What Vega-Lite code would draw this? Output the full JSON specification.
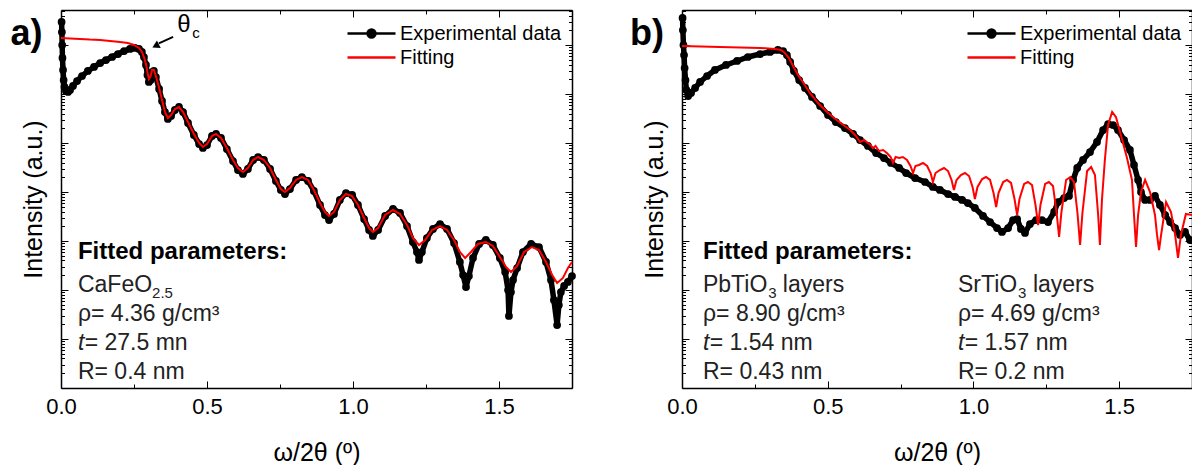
{
  "$schema": "https://vega.github.io/schema/vega-lite/v6.json",
  "background": "white",
  "padding": {"left": 10, "top": 9, "right": 0, "bottom": 0},
  "bounds": "flush",
  "spacing": 110,
  "resolve": {"scale": {"color": "independent"}},
  "config": {
    "view": {"stroke": null},
    "axis": {"grid": false, "domainColor": "black", "domainWidth": 1.5, "tickColor": "black", "tickWidth": 1, "labelFont": "Liberation Sans", "labelFontSize": 22, "labelColor": "black", "titleFont": "Liberation Sans", "titleFontSize": 25, "titleFontWeight": "normal", "titleColor": "black"},
    "text": {"font": "Liberation Sans", "align": "left", "baseline": "alphabetic", "color": "#222222", "fontSize": 23}
  },
  "datasets": {
    "a_exp": [
      {"x":0.002,"I":2.95e7},{"x":0.003,"I":1.84e7},{"x":0.004,"I":1.0e7},{"x":0.005,"I":5.43e6},{"x":0.007,"I":3.09e6},{"x":0.009,"I":1.93e6},{"x":0.012,"I":1.39e6},{"x":0.017,"I":1.15e6},{"x":0.024,"I":1.10e6},{"x":0.031,"I":1.21e6},{"x":0.041,"I":1.46e6},{"x":0.055,"I":1.84e6},{"x":0.072,"I":2.33e6},{"x":0.092,"I":2.95e6},{"x":0.113,"I":3.56e6},{"x":0.134,"I":4.29e6},{"x":0.154,"I":4.94e6},{"x":0.175,"I":5.69e6},{"x":0.195,"I":6.55e6},{"x":0.216,"I":7.54e6},{"x":0.236,"I":8.29e6},{"x":0.253,"I":8.69e6},{"x":0.267,"I":8.29e6},{"x":0.277,"I":7.20e6},{"x":0.284,"I":5.69e6},{"x":0.291,"I":3.91e6},{"x":0.296,"I":2.44e6},{"x":0.301,"I":1.76e6},{"x":0.307,"I":1.93e6},{"x":0.312,"I":2.81e6},{"x":0.318,"I":2.95e6},{"x":0.325,"I":2.22e6},{"x":0.336,"I":1.27e6},{"x":0.346,"I":7.20e5},{"x":0.356,"I":4.29e5},{"x":0.366,"I":3.09e5},{"x":0.377,"I":3.56e5},{"x":0.390,"I":4.72e5},{"x":0.404,"I":5.43e5},{"x":0.418,"I":4.29e5},{"x":0.435,"I":2.56e5},{"x":0.455,"I":1.46e5},{"x":0.473,"I":9.54e4},{"x":0.486,"I":7.91e4},{"x":0.500,"I":9.10e4},{"x":0.517,"I":1.39e5},{"x":0.531,"I":1.53e5},{"x":0.548,"I":1.27e5},{"x":0.568,"I":7.54e4},{"x":0.589,"I":4.29e4},{"x":0.606,"I":2.81e4},{"x":0.623,"I":2.33e4},{"x":0.640,"I":2.95e4},{"x":0.658,"I":4.50e4},{"x":0.675,"I":5.18e4},{"x":0.695,"I":4.50e4},{"x":0.716,"I":2.95e4},{"x":0.736,"I":1.68e4},{"x":0.753,"I":1.10e4},{"x":0.767,"I":9.10e3},{"x":0.784,"I":1.15e4},{"x":0.805,"I":1.76e4},{"x":0.825,"I":2.02e4},{"x":0.846,"I":1.68e4},{"x":0.866,"I":1.05e4},{"x":0.887,"I":5.43e3},{"x":0.904,"I":3.39e3},{"x":0.918,"I":2.68e3},{"x":0.935,"I":3.56e3},{"x":0.955,"I":6.87e3},{"x":0.976,"I":9.54e3},{"x":0.997,"I":8.69e3},{"x":1.017,"I":5.43e3},{"x":1.038,"I":2.81e3},{"x":1.055,"I":1.68e3},{"x":1.068,"I":1.27e3},{"x":1.086,"I":1.68e3},{"x":1.110,"I":3.24e3},{"x":1.137,"I":4.50e3},{"x":1.161,"I":3.73e3},{"x":1.185,"I":2.02e3},{"x":1.205,"I":954},{"x":1.219,"I":596},{"x":1.226,"I":410},{"x":1.236,"I":596},{"x":1.253,"I":1.15e3},{"x":1.274,"I":1.76e3},{"x":1.298,"I":2.22e3},{"x":1.322,"I":1.76e3},{"x":1.346,"I":910},{"x":1.366,"I":373},{"x":1.377,"I":202},{"x":1.387,"I":115},{"x":1.397,"I":193},{"x":1.411,"I":450},{"x":1.432,"I":869},{"x":1.455,"I":1.05e3},{"x":1.479,"I":829},{"x":1.503,"I":450},{"x":1.521,"I":233},{"x":1.531,"I":100},{"x":1.534,"I":29.5},{"x":1.541,"I":91},{"x":1.548,"I":160},{"x":1.562,"I":281},{"x":1.582,"I":596},{"x":1.610,"I":869},{"x":1.637,"I":754},{"x":1.661,"I":373},{"x":1.678,"I":160},{"x":1.688,"I":62.5},{"x":1.699,"I":19.3},{"x":1.705,"I":49.4},{"x":1.712,"I":91},{"x":1.723,"I":121},{"x":1.736,"I":146},{"x":1.750,"I":193}
    ],
    "a_fit": [
      {"x":0,"I":1.39e7},{"x":0.031,"I":1.36e7},{"x":0.065,"I":1.33e7},{"x":0.099,"I":1.29e7},{"x":0.134,"I":1.27e7},{"x":0.168,"I":1.21e7},{"x":0.202,"I":1.15e7},{"x":0.229,"I":1.10e7},{"x":0.250,"I":1.0e7},{"x":0.267,"I":8.69e6},{"x":0.277,"I":7.20e6},{"x":0.284,"I":5.69e6},{"x":0.291,"I":4.10e6},{"x":0.296,"I":2.81e6},{"x":0.301,"I":2.02e6},{"x":0.307,"I":2.33e6},{"x":0.312,"I":3.09e6},{"x":0.318,"I":3.09e6},{"x":0.325,"I":2.33e6},{"x":0.336,"I":1.33e6},{"x":0.346,"I":7.54e5},{"x":0.356,"I":4.29e5},{"x":0.366,"I":3.24e5},{"x":0.377,"I":3.73e5},{"x":0.390,"I":4.94e5},{"x":0.404,"I":5.43e5},{"x":0.418,"I":4.29e5},{"x":0.435,"I":2.68e5},{"x":0.455,"I":1.53e5},{"x":0.473,"I":1.0e5},{"x":0.486,"I":8.29e4},{"x":0.500,"I":9.54e4},{"x":0.517,"I":1.39e5},{"x":0.531,"I":1.53e5},{"x":0.548,"I":1.27e5},{"x":0.568,"I":7.91e4},{"x":0.589,"I":4.50e4},{"x":0.606,"I":3.09e4},{"x":0.623,"I":2.56e4},{"x":0.640,"I":3.09e4},{"x":0.658,"I":4.50e4},{"x":0.675,"I":5.18e4},{"x":0.695,"I":4.50e4},{"x":0.716,"I":3.09e4},{"x":0.736,"I":1.76e4},{"x":0.753,"I":1.15e4},{"x":0.767,"I":1.0e4},{"x":0.784,"I":1.21e4},{"x":0.805,"I":1.76e4},{"x":0.825,"I":2.02e4},{"x":0.846,"I":1.76e4},{"x":0.866,"I":1.10e4},{"x":0.887,"I":5.96e3},{"x":0.904,"I":3.91e3},{"x":0.918,"I":3.24e3},{"x":0.935,"I":3.91e3},{"x":0.955,"I":6.87e3},{"x":0.976,"I":9.10e3},{"x":0.997,"I":8.29e3},{"x":1.017,"I":5.43e3},{"x":1.038,"I":2.95e3},{"x":1.055,"I":1.84e3},{"x":1.068,"I":1.53e3},{"x":1.086,"I":1.84e3},{"x":1.110,"I":3.39e3},{"x":1.137,"I":4.29e3},{"x":1.161,"I":3.56e3},{"x":1.185,"I":2.12e3},{"x":1.205,"I":1.15e3},{"x":1.226,"I":829},{"x":1.247,"I":1.05e3},{"x":1.271,"I":1.68e3},{"x":1.298,"I":2.02e3},{"x":1.322,"I":1.68e3},{"x":1.346,"I":1.05e3},{"x":1.366,"I":596},{"x":1.384,"I":450},{"x":1.404,"I":596},{"x":1.428,"I":869},{"x":1.455,"I":954},{"x":1.479,"I":791},{"x":1.503,"I":472},{"x":1.524,"I":295},{"x":1.541,"I":233},{"x":1.562,"I":309},{"x":1.586,"I":596},{"x":1.613,"I":754},{"x":1.637,"I":655},{"x":1.661,"I":373},{"x":1.682,"I":202},{"x":1.699,"I":139},{"x":1.719,"I":176},{"x":1.736,"I":281},{"x":1.750,"I":373}
    ],
    "b_exp": [
      {"x":0.002,"I":3.56e7},{"x":0.003,"I":2.02e7},{"x":0.005,"I":1.0e7},{"x":0.007,"I":6.25e6},{"x":0.009,"I":3.39e6},{"x":0.012,"I":1.93e6},{"x":0.015,"I":1.21e6},{"x":0.021,"I":9.10e5},{"x":0.031,"I":1.05e6},{"x":0.045,"I":1.33e6},{"x":0.062,"I":1.76e6},{"x":0.086,"I":2.33e6},{"x":0.113,"I":3.09e6},{"x":0.151,"I":3.91e6},{"x":0.189,"I":4.72e6},{"x":0.226,"I":5.69e6},{"x":0.268,"I":6.55e6},{"x":0.302,"I":7.20e6},{"x":0.329,"I":7.91e6},{"x":0.347,"I":7.54e6},{"x":0.360,"I":6.25e6},{"x":0.371,"I":4.50e6},{"x":0.384,"I":2.95e6},{"x":0.402,"I":1.93e6},{"x":0.422,"I":1.33e6},{"x":0.446,"I":8.69e5},{"x":0.474,"I":5.69e5},{"x":0.501,"I":3.73e5},{"x":0.528,"I":2.68e5},{"x":0.559,"I":2.02e5},{"x":0.587,"I":1.53e5},{"x":0.611,"I":1.15e5},{"x":0.638,"I":8.69e4},{"x":0.666,"I":6.25e4},{"x":0.693,"I":4.94e4},{"x":0.717,"I":3.91e4},{"x":0.745,"I":3.09e4},{"x":0.769,"I":2.44e4},{"x":0.800,"I":1.93e4},{"x":0.834,"I":1.60e4},{"x":0.861,"I":1.27e4},{"x":0.885,"I":1.10e4},{"x":0.913,"I":9.10e3},{"x":0.937,"I":7.91e3},{"x":0.961,"I":6.87e3},{"x":0.981,"I":5.96e3},{"x":1.005,"I":4.72e3},{"x":1.033,"I":3.24e3},{"x":1.057,"I":2.44e3},{"x":1.081,"I":1.84e3},{"x":1.098,"I":1.53e3},{"x":1.119,"I":1.84e3},{"x":1.136,"I":2.68e3},{"x":1.150,"I":2.81e3},{"x":1.163,"I":1.76e3},{"x":1.177,"I":1.46e3},{"x":1.194,"I":2.22e3},{"x":1.215,"I":2.68e3},{"x":1.235,"I":2.68e3},{"x":1.256,"I":2.44e3},{"x":1.277,"I":3.91e3},{"x":1.290,"I":6.25e3},{"x":1.311,"I":7.54e3},{"x":1.328,"I":8.29e3},{"x":1.342,"I":1.76e4},{"x":1.356,"I":3.09e4},{"x":1.376,"I":4.50e4},{"x":1.400,"I":6.55e4},{"x":1.424,"I":1.05e5},{"x":1.445,"I":1.84e5},{"x":1.462,"I":2.44e5},{"x":1.479,"I":2.33e5},{"x":1.496,"I":1.84e5},{"x":1.517,"I":1.15e5},{"x":1.537,"I":7.20e4},{"x":1.551,"I":3.56e4},{"x":1.565,"I":1.76e4},{"x":1.575,"I":1.0e4},{"x":1.589,"I":6.87e3},{"x":1.606,"I":6.87e3},{"x":1.623,"I":8.29e3},{"x":1.640,"I":5.43e3},{"x":1.658,"I":3.39e3},{"x":1.675,"I":2.44e3},{"x":1.692,"I":1.84e3},{"x":1.709,"I":1.33e3},{"x":1.726,"I":1.53e3},{"x":1.743,"I":1.05e3}
    ],
    "b_fit": [
      {"x":0,"I":9.54e6},{"x":0.130,"I":9.10e6},{"x":0.268,"I":8.69e6},{"x":0.319,"I":8.29e6},{"x":0.340,"I":7.91e6},{"x":0.353,"I":6.87e6},{"x":0.367,"I":5.43e6},{"x":0.381,"I":3.73e6},{"x":0.398,"I":2.44e6},{"x":0.419,"I":1.60e6},{"x":0.439,"I":1.05e6},{"x":0.467,"I":6.55e5},{"x":0.494,"I":4.50e5},{"x":0.522,"I":3.24e5},{"x":0.549,"I":2.44e5},{"x":0.577,"I":1.84e5},{"x":0.597,"I":1.39e5},
      {"x":0.611,"I":1.05e5},{"x":0.625,"I":1.15e5},{"x":0.638,"I":1.0e5},{"x":0.647,"I":9.10e4},{"x":0.655,"I":7.91e4},{"x":0.664,"I":8.69e4},
      {"x":0.676,"I":6.87e4},{"x":0.690,"I":7.20e4},{"x":0.703,"I":6.25e4},{"x":0.716,"I":5.18e4},{"x":0.724,"I":3.91e4},{"x":0.733,"I":5.18e4},
      {"x":0.745,"I":4.94e4},{"x":0.758,"I":5.18e4},{"x":0.772,"I":4.50e4},{"x":0.784,"I":3.39e4},{"x":0.793,"I":2.44e4},{"x":0.801,"I":3.39e4},
      {"x":0.813,"I":3.56e4},{"x":0.827,"I":3.91e4},{"x":0.841,"I":3.39e4},{"x":0.853,"I":2.44e4},{"x":0.861,"I":1.60e4},{"x":0.870,"I":2.44e4},
      {"x":0.885,"I":2.81e4},{"x":0.899,"I":3.09e4},{"x":0.913,"I":2.68e4},{"x":0.925,"I":1.76e4},{"x":0.933,"I":1.10e4},{"x":0.942,"I":1.76e4},
      {"x":0.957,"I":2.22e4},{"x":0.971,"I":2.44e4},{"x":0.985,"I":2.12e4},{"x":0.997,"I":1.27e4},{"x":1.005,"I":7.20e3},{"x":1.014,"I":1.27e4},
      {"x":1.030,"I":1.84e4},{"x":1.043,"I":2.02e4},{"x":1.057,"I":1.76e4},{"x":1.069,"I":9.54e3},{"x":1.078,"I":4.94e3},{"x":1.086,"I":9.54e3},
      {"x":1.102,"I":1.60e4},{"x":1.115,"I":1.76e4},{"x":1.129,"I":1.53e4},{"x":1.141,"I":7.20e3},{"x":1.150,"I":3.39e3},{"x":1.158,"I":7.20e3},
      {"x":1.174,"I":1.46e4},{"x":1.187,"I":1.60e4},{"x":1.201,"I":1.39e4},{"x":1.213,"I":5.43e3},{"x":1.222,"I":2.12e3},{"x":1.230,"I":5.43e3},
      {"x":1.246,"I":1.46e4},{"x":1.259,"I":1.60e4},{"x":1.273,"I":1.33e4},{"x":1.285,"I":3.91e3},{"x":1.294,"I":1.21e3},{"x":1.302,"I":3.91e3},
      {"x":1.318,"I":1.76e4},{"x":1.332,"I":2.02e4},{"x":1.345,"I":1.60e4},{"x":1.357,"I":3.73e3},{"x":1.366,"I":829},{"x":1.374,"I":3.73e3},
      {"x":1.390,"I":2.68e4},{"x":1.404,"I":3.24e4},{"x":1.417,"I":2.22e4},{"x":1.428,"I":3.39e3},{"x":1.434,"I":829},{"x":1.441,"I":6.87e3},
      {"x":1.451,"I":4.50e4},{"x":1.462,"I":2.33e5},{"x":1.476,"I":4.29e5},{"x":1.489,"I":3.39e5},{"x":1.506,"I":1.46e5},{"x":1.527,"I":4.94e4},{"x":1.544,"I":1.76e4},{"x":1.551,"I":3.39e3},{"x":1.558,"I":754},{"x":1.565,"I":3.39e3},{"x":1.575,"I":1.0e4},{"x":1.589,"I":1.76e4},{"x":1.606,"I":1.0e4},{"x":1.623,"I":3.39e3},{"x":1.630,"I":1.33e3},{"x":1.637,"I":655},{"x":1.644,"I":1.33e3},{"x":1.661,"I":6.25e3},{"x":1.678,"I":3.91e3},{"x":1.692,"I":1.33e3},{"x":1.702,"I":450},{"x":1.712,"I":1.33e3},{"x":1.729,"I":3.56e3},{"x":1.750,"I":3.39e3}
    ]
  },
  "hconcat": [
    {
      "width": 511,
      "height": 378,
      "resolve": {"axis": {"x": "independent", "y": "independent"}},
      "layer": [
        {
          "data": {"name": "a_exp"},
          "mark": {"type": "line", "strokeWidth": 5.5, "strokeJoin": "round", "strokeCap": "round"},
          "encoding": {
            "x": {"field": "x", "type": "quantitative", "scale": {"domain": [0, 1.75], "nice": false, "zero": false},
                  "axis": {"orient": "top", "values": [0,0.25,0.5,0.75,1,1.25,1.5,1.75], "labels": false, "title": null, "tickSize": {"condition": {"test": "datum.value % 0.5 === 0", "value": -7}, "value": -4}}},
            "y": {"field": "I", "type": "quantitative", "scale": {"type": "log", "domain": [1, 5.18e7], "nice": false},
                  "axis": {"orient": "right", "values": [1,2,3,4,5,6,7,8,9,10,20,30,40,50,60,70,80,90,100,200,300,400,500,600,700,800,900,1000,2000,3000,4000,5000,6000,7000,8000,9000,10000,20000,30000,40000,50000,60000,70000,80000,90000,100000,200000,300000,400000,500000,600000,700000,800000,900000,1000000,2000000,3000000,4000000,5000000,6000000,7000000,8000000,9000000,10000000,20000000,30000000,40000000,50000000], "labels": false, "title": null, "tickSize": {"condition": {"test": "abs(log(datum.value)/LN10 - round(log(datum.value)/LN10)) < 0.001", "value": -7}, "value": -3.5}}},
            "color": {"datum": "Experimental data", "type": "nominal",
                      "scale": {"domain": ["Experimental data", "Fitting"], "range": ["black", "red"]},
                      "legend": {"orient": "top-right", "offset": 10, "title": null, "padding": 0, "labelFont": "Liberation Sans", "labelFontSize": 20, "labelColor": "black", "labelLimit": 400, "symbolSize": 576, "labelOffset": 27, "rowPadding": 0,
                                 "encode": {"symbols": {"update": {
                                   "shape": {"signal": "datum.value === 'Fitting' ? 'M-1,0L3,0' : 'M-1,0L3,0M0.67,0A0.33,0.33,0,1,1,1.33,0A0.33,0.33,0,1,1,0.67,0Z'"},
                                   "fill": {"signal": "datum.value === 'Fitting' ? 'transparent' : 'black'"},
                                   "stroke": {"signal": "datum.value === 'Fitting' ? 'red' : 'black'"},
                                   "strokeWidth": {"value": 2.5},
                                   "opacity": {"value": 1}}}}}}
          }
        },
        {
          "data": {"name": "a_exp"},
          "mark": {"type": "point", "filled": true, "size": 60, "opacity": 1},
          "encoding": {
            "x": {"field": "x", "type": "quantitative", "scale": {"domain": [0, 1.75], "nice": false, "zero": false}, "axis": null},
            "y": {"field": "I", "type": "quantitative", "scale": {"type": "log", "domain": [1, 5.18e7], "nice": false}, "axis": null},
            "color": {"datum": "Experimental data", "type": "nominal"}
          }
        },
        {
          "data": {"name": "a_fit"},
          "mark": {"type": "line", "strokeWidth": 2},
          "encoding": {
            "x": {"field": "x", "type": "quantitative", "scale": {"domain": [0, 1.75], "nice": false, "zero": false},
                  "axis": {"orient": "bottom", "values": [0,0.25,0.5,0.75,1,1.25,1.5,1.75], "format": ".1f", "labelExpr": "datum.value % 0.5 === 0 && datum.value < 1.7 ? datum.label : ''", "labelFlush": false, "labelOverlap": false, "labelBound": false, "labelPadding": 15, "title": "ω/2θ (º)", "titlePadding": 20, "tickSize": {"condition": {"test": "datum.value % 0.5 === 0", "value": -7}, "value": -4}}},
            "y": {"field": "I", "type": "quantitative", "scale": {"type": "log", "domain": [1, 5.18e7], "nice": false},
                  "axis": {"orient": "left", "values": [1,2,3,4,5,6,7,8,9,10,20,30,40,50,60,70,80,90,100,200,300,400,500,600,700,800,900,1000,2000,3000,4000,5000,6000,7000,8000,9000,10000,20000,30000,40000,50000,60000,70000,80000,90000,100000,200000,300000,400000,500000,600000,700000,800000,900000,1000000,2000000,3000000,4000000,5000000,6000000,7000000,8000000,9000000,10000000,20000000,30000000,40000000,50000000], "labels": false, "title": "Intensity (a.u.)", "titlePadding": 14, "tickSize": {"condition": {"test": "abs(log(datum.value)/LN10 - round(log(datum.value)/LN10)) < 0.001", "value": -7}, "value": -3.5}}},
            "color": {"datum": "Fitting", "type": "nominal"}
          }
        },
        {
          "data": {"values": [{}]},
          "mark": {"type": "text", "fontSize": 24, "fontWeight": "bold", "color": "black"},
          "encoding": {
            "x": {"datum": 0.058, "type": "quantitative", "scale": {"domain": [0, 1.75], "nice": false, "zero": false}, "axis": null},
            "y": {"datum": 429, "type": "quantitative", "scale": {"type": "log", "domain": [1, 5.18e7], "nice": false}, "axis": null},
            "text": {"value": "Fitted parameters:"}
          }
        },
        {
          "data": {"values": [{}]},
          "mark": {"type": "text"},
          "encoding": {
            "x": {"datum": 0.058, "type": "quantitative", "scale": {"domain": [0, 1.75], "nice": false, "zero": false}, "axis": null},
            "y": {"datum": 91, "type": "quantitative", "scale": {"type": "log", "domain": [1, 5.18e7], "nice": false}, "axis": null},
            "text": {"value": "CaFeO"}
          }
        },
        {
          "data": {"values": [{}]},
          "mark": {"type": "text", "fontSize": 15},
          "encoding": {
            "x": {"datum": 0.312, "type": "quantitative", "scale": {"domain": [0, 1.75], "nice": false, "zero": false}, "axis": null},
            "y": {"datum": 68.7, "type": "quantitative", "scale": {"type": "log", "domain": [1, 5.18e7], "nice": false}, "axis": null},
            "text": {"value": "2.5"}
          }
        },
        {
          "data": {"values": [{}]},
          "mark": {"type": "text"},
          "encoding": {
            "x": {"datum": 0.058, "type": "quantitative", "scale": {"domain": [0, 1.75], "nice": false, "zero": false}, "axis": null},
            "y": {"datum": 23.3, "type": "quantitative", "scale": {"type": "log", "domain": [1, 5.18e7], "nice": false}, "axis": null},
            "text": {"value": "ρ= 4.36 g/cm³"}
          }
        },
        {
          "data": {"values": [{}]},
          "mark": {"type": "text", "fontStyle": "italic"},
          "encoding": {
            "x": {"datum": 0.058, "type": "quantitative", "scale": {"domain": [0, 1.75], "nice": false, "zero": false}, "axis": null},
            "y": {"datum": 5.96, "type": "quantitative", "scale": {"type": "log", "domain": [1, 5.18e7], "nice": false}, "axis": null},
            "text": {"value": "t"}
          }
        },
        {
          "data": {"values": [{}]},
          "mark": {"type": "text"},
          "encoding": {
            "x": {"datum": 0.081, "type": "quantitative", "scale": {"domain": [0, 1.75], "nice": false, "zero": false}, "axis": null},
            "y": {"datum": 5.96, "type": "quantitative", "scale": {"type": "log", "domain": [1, 5.18e7], "nice": false}, "axis": null},
            "text": {"value": "= 27.5 mn"}
          }
        },
        {
          "data": {"values": [{}]},
          "mark": {"type": "text"},
          "encoding": {
            "x": {"datum": 0.058, "type": "quantitative", "scale": {"domain": [0, 1.75], "nice": false, "zero": false}, "axis": null},
            "y": {"datum": 1.53, "type": "quantitative", "scale": {"type": "log", "domain": [1, 5.18e7], "nice": false}, "axis": null},
            "text": {"value": "R= 0.4 nm"}
          }
        },
        {
          "data": {"values": [{}]},
          "mark": {"type": "text", "fontSize": 36, "fontWeight": "bold", "align": "center", "baseline": "middle", "color": "black"},
          "encoding": {
            "x": {"datum": -0.118, "type": "quantitative", "scale": {"domain": [0, 1.75], "nice": false, "zero": false}, "axis": null},
            "y": {"datum": 1.68e7, "type": "quantitative", "scale": {"type": "log", "domain": [1, 5.18e7], "nice": false}, "axis": null},
            "text": {"value": "a)"}
          }
        },
        {
          "data": {"values": [{}]},
          "mark": {"type": "text", "fontSize": 24, "align": "center", "baseline": "middle", "color": "black"},
          "encoding": {
            "x": {"datum": 0.421, "type": "quantitative", "scale": {"domain": [0, 1.75], "nice": false, "zero": false}, "axis": null},
            "y": {"datum": 2.56e7, "type": "quantitative", "scale": {"type": "log", "domain": [1, 5.18e7], "nice": false}, "axis": null},
            "text": {"value": "θ"}
          }
        },
        {
          "data": {"values": [{}]},
          "mark": {"type": "text", "fontSize": 15, "align": "center", "baseline": "middle", "color": "black"},
          "encoding": {
            "x": {"datum": 0.462, "type": "quantitative", "scale": {"domain": [0, 1.75], "nice": false, "zero": false}, "axis": null},
            "y": {"datum": 1.76e7, "type": "quantitative", "scale": {"type": "log", "domain": [1, 5.18e7], "nice": false}, "axis": null},
            "text": {"value": "c"}
          }
        },
        {
          "data": {"values": [{}]},
          "mark": {"type": "rule", "color": "black", "strokeWidth": 2},
          "encoding": {
            "x": {"datum": 0.384, "type": "quantitative", "scale": {"domain": [0, 1.75], "nice": false, "zero": false}, "axis": null},
            "y": {"datum": 1.46e7, "type": "quantitative", "scale": {"type": "log", "domain": [1, 5.18e7], "nice": false}, "axis": null},
            "x2": {"datum": 0.335},
            "y2": {"datum": 1.08e7}
          }
        },
        {
          "data": {"values": [{}]},
          "mark": {"type": "point", "shape": "triangle-right", "angle": 153, "size": 70, "filled": true, "color": "black", "opacity": 1},
          "encoding": {
            "x": {"datum": 0.324, "type": "quantitative", "scale": {"domain": [0, 1.75], "nice": false, "zero": false}, "axis": null},
            "y": {"datum": 9.6e6, "type": "quantitative", "scale": {"type": "log", "domain": [1, 5.18e7], "nice": false}, "axis": null}
          }
        }
      ]
    },
    {
      "width": 510,
      "height": 378,
      "resolve": {"axis": {"x": "independent", "y": "independent"}},
      "layer": [
        {
          "data": {"name": "b_exp"},
          "mark": {"type": "line", "strokeWidth": 5.5, "strokeJoin": "round", "strokeCap": "round"},
          "encoding": {
            "x": {"field": "x", "type": "quantitative", "scale": {"domain": [0, 1.75], "nice": false, "zero": false},
                  "axis": {"orient": "top", "values": [0,0.25,0.5,0.75,1,1.25,1.5,1.75], "labels": false, "title": null, "tickSize": {"condition": {"test": "datum.value % 0.5 === 0", "value": -7}, "value": -4}}},
            "y": {"field": "I", "type": "quantitative", "scale": {"type": "log", "domain": [1, 5.18e7], "nice": false},
                  "axis": {"orient": "right", "values": [1,2,3,4,5,6,7,8,9,10,20,30,40,50,60,70,80,90,100,200,300,400,500,600,700,800,900,1000,2000,3000,4000,5000,6000,7000,8000,9000,10000,20000,30000,40000,50000,60000,70000,80000,90000,100000,200000,300000,400000,500000,600000,700000,800000,900000,1000000,2000000,3000000,4000000,5000000,6000000,7000000,8000000,9000000,10000000,20000000,30000000,40000000,50000000], "labels": false, "title": null, "tickSize": {"condition": {"test": "abs(log(datum.value)/LN10 - round(log(datum.value)/LN10)) < 0.001", "value": -7}, "value": -3.5}}},
            "color": {"datum": "Experimental data", "type": "nominal",
                      "scale": {"domain": ["Experimental data", "Fitting"], "range": ["black", "red"]},
                      "legend": {"orient": "top-right", "offset": 10, "title": null, "padding": 0, "labelFont": "Liberation Sans", "labelFontSize": 20, "labelColor": "black", "labelLimit": 400, "symbolSize": 576, "labelOffset": 27, "rowPadding": 0,
                                 "encode": {"symbols": {"update": {
                                   "shape": {"signal": "datum.value === 'Fitting' ? 'M-1,0L3,0' : 'M-1,0L3,0M0.67,0A0.33,0.33,0,1,1,1.33,0A0.33,0.33,0,1,1,0.67,0Z'"},
                                   "fill": {"signal": "datum.value === 'Fitting' ? 'transparent' : 'black'"},
                                   "stroke": {"signal": "datum.value === 'Fitting' ? 'red' : 'black'"},
                                   "strokeWidth": {"value": 2.5},
                                   "opacity": {"value": 1}}}}}}
          }
        },
        {
          "data": {"name": "b_exp"},
          "mark": {"type": "point", "filled": true, "size": 60, "opacity": 1},
          "encoding": {
            "x": {"field": "x", "type": "quantitative", "scale": {"domain": [0, 1.75], "nice": false, "zero": false}, "axis": null},
            "y": {"field": "I", "type": "quantitative", "scale": {"type": "log", "domain": [1, 5.18e7], "nice": false}, "axis": null},
            "color": {"datum": "Experimental data", "type": "nominal"}
          }
        },
        {
          "data": {"name": "b_fit"},
          "mark": {"type": "line", "strokeWidth": 2},
          "encoding": {
            "x": {"field": "x", "type": "quantitative", "scale": {"domain": [0, 1.75], "nice": false, "zero": false},
                  "axis": {"orient": "bottom", "values": [0,0.25,0.5,0.75,1,1.25,1.5,1.75], "format": ".1f", "labelExpr": "datum.value % 0.5 === 0 && datum.value < 1.7 ? datum.label : ''", "labelFlush": false, "labelOverlap": false, "labelBound": false, "labelPadding": 15, "title": "ω/2θ (º)", "titlePadding": 20, "tickSize": {"condition": {"test": "datum.value % 0.5 === 0", "value": -7}, "value": -4}}},
            "y": {"field": "I", "type": "quantitative", "scale": {"type": "log", "domain": [1, 5.18e7], "nice": false},
                  "axis": {"orient": "left", "values": [1,2,3,4,5,6,7,8,9,10,20,30,40,50,60,70,80,90,100,200,300,400,500,600,700,800,900,1000,2000,3000,4000,5000,6000,7000,8000,9000,10000,20000,30000,40000,50000,60000,70000,80000,90000,100000,200000,300000,400000,500000,600000,700000,800000,900000,1000000,2000000,3000000,4000000,5000000,6000000,7000000,8000000,9000000,10000000,20000000,30000000,40000000,50000000], "labels": false, "title": "Intensity (a.u.)", "titlePadding": 14, "tickSize": {"condition": {"test": "abs(log(datum.value)/LN10 - round(log(datum.value)/LN10)) < 0.001", "value": -7}, "value": -3.5}}},
            "color": {"datum": "Fitting", "type": "nominal"}
          }
        },
        {
          "data": {"values": [{}]},
          "mark": {"type": "text", "fontSize": 24, "fontWeight": "bold", "color": "black"},
          "encoding": {
            "x": {"datum": 0.072, "type": "quantitative", "scale": {"domain": [0, 1.75], "nice": false, "zero": false}, "axis": null},
            "y": {"datum": 429, "type": "quantitative", "scale": {"type": "log", "domain": [1, 5.18e7], "nice": false}, "axis": null},
            "text": {"value": "Fitted parameters:"}
          }
        },
        {
          "data": {"values": [{}]},
          "mark": {"type": "text"},
          "encoding": {
            "x": {"datum": 0.072, "type": "quantitative", "scale": {"domain": [0, 1.75], "nice": false, "zero": false}, "axis": null},
            "y": {"datum": 91, "type": "quantitative", "scale": {"type": "log", "domain": [1, 5.18e7], "nice": false}, "axis": null},
            "text": {"value": "PbTiO"}
          }
        },
        {
          "data": {"values": [{}]},
          "mark": {"type": "text", "fontSize": 15},
          "encoding": {
            "x": {"datum": 0.296, "type": "quantitative", "scale": {"domain": [0, 1.75], "nice": false, "zero": false}, "axis": null},
            "y": {"datum": 68.7, "type": "quantitative", "scale": {"type": "log", "domain": [1, 5.18e7], "nice": false}, "axis": null},
            "text": {"value": "3"}
          }
        },
        {
          "data": {"values": [{}]},
          "mark": {"type": "text"},
          "encoding": {
            "x": {"datum": 0.346, "type": "quantitative", "scale": {"domain": [0, 1.75], "nice": false, "zero": false}, "axis": null},
            "y": {"datum": 91, "type": "quantitative", "scale": {"type": "log", "domain": [1, 5.18e7], "nice": false}, "axis": null},
            "text": {"value": "layers"}
          }
        },
        {
          "data": {"values": [{}]},
          "mark": {"type": "text"},
          "encoding": {
            "x": {"datum": 0.072, "type": "quantitative", "scale": {"domain": [0, 1.75], "nice": false, "zero": false}, "axis": null},
            "y": {"datum": 23.3, "type": "quantitative", "scale": {"type": "log", "domain": [1, 5.18e7], "nice": false}, "axis": null},
            "text": {"value": "ρ= 8.90 g/cm³"}
          }
        },
        {
          "data": {"values": [{}]},
          "mark": {"type": "text", "fontStyle": "italic"},
          "encoding": {
            "x": {"datum": 0.072, "type": "quantitative", "scale": {"domain": [0, 1.75], "nice": false, "zero": false}, "axis": null},
            "y": {"datum": 5.96, "type": "quantitative", "scale": {"type": "log", "domain": [1, 5.18e7], "nice": false}, "axis": null},
            "text": {"value": "t"}
          }
        },
        {
          "data": {"values": [{}]},
          "mark": {"type": "text"},
          "encoding": {
            "x": {"datum": 0.095, "type": "quantitative", "scale": {"domain": [0, 1.75], "nice": false, "zero": false}, "axis": null},
            "y": {"datum": 5.96, "type": "quantitative", "scale": {"type": "log", "domain": [1, 5.18e7], "nice": false}, "axis": null},
            "text": {"value": "= 1.54 nm"}
          }
        },
        {
          "data": {"values": [{}]},
          "mark": {"type": "text"},
          "encoding": {
            "x": {"datum": 0.072, "type": "quantitative", "scale": {"domain": [0, 1.75], "nice": false, "zero": false}, "axis": null},
            "y": {"datum": 1.53, "type": "quantitative", "scale": {"type": "log", "domain": [1, 5.18e7], "nice": false}, "axis": null},
            "text": {"value": "R= 0.43 nm"}
          }
        },
        {
          "data": {"values": [{}]},
          "mark": {"type": "text"},
          "encoding": {
            "x": {"datum": 0.947, "type": "quantitative", "scale": {"domain": [0, 1.75], "nice": false, "zero": false}, "axis": null},
            "y": {"datum": 91, "type": "quantitative", "scale": {"type": "log", "domain": [1, 5.18e7], "nice": false}, "axis": null},
            "text": {"value": "SrTiO"}
          }
        },
        {
          "data": {"values": [{}]},
          "mark": {"type": "text", "fontSize": 15},
          "encoding": {
            "x": {"datum": 1.153, "type": "quantitative", "scale": {"domain": [0, 1.75], "nice": false, "zero": false}, "axis": null},
            "y": {"datum": 68.7, "type": "quantitative", "scale": {"type": "log", "domain": [1, 5.18e7], "nice": false}, "axis": null},
            "text": {"value": "3"}
          }
        },
        {
          "data": {"values": [{}]},
          "mark": {"type": "text"},
          "encoding": {
            "x": {"datum": 1.204, "type": "quantitative", "scale": {"domain": [0, 1.75], "nice": false, "zero": false}, "axis": null},
            "y": {"datum": 91, "type": "quantitative", "scale": {"type": "log", "domain": [1, 5.18e7], "nice": false}, "axis": null},
            "text": {"value": "layers"}
          }
        },
        {
          "data": {"values": [{}]},
          "mark": {"type": "text"},
          "encoding": {
            "x": {"datum": 0.947, "type": "quantitative", "scale": {"domain": [0, 1.75], "nice": false, "zero": false}, "axis": null},
            "y": {"datum": 23.3, "type": "quantitative", "scale": {"type": "log", "domain": [1, 5.18e7], "nice": false}, "axis": null},
            "text": {"value": "ρ= 4.69 g/cm³"}
          }
        },
        {
          "data": {"values": [{}]},
          "mark": {"type": "text", "fontStyle": "italic"},
          "encoding": {
            "x": {"datum": 0.947, "type": "quantitative", "scale": {"domain": [0, 1.75], "nice": false, "zero": false}, "axis": null},
            "y": {"datum": 5.96, "type": "quantitative", "scale": {"type": "log", "domain": [1, 5.18e7], "nice": false}, "axis": null},
            "text": {"value": "t"}
          }
        },
        {
          "data": {"values": [{}]},
          "mark": {"type": "text"},
          "encoding": {
            "x": {"datum": 0.970, "type": "quantitative", "scale": {"domain": [0, 1.75], "nice": false, "zero": false}, "axis": null},
            "y": {"datum": 5.96, "type": "quantitative", "scale": {"type": "log", "domain": [1, 5.18e7], "nice": false}, "axis": null},
            "text": {"value": "= 1.57 nm"}
          }
        },
        {
          "data": {"values": [{}]},
          "mark": {"type": "text"},
          "encoding": {
            "x": {"datum": 0.947, "type": "quantitative", "scale": {"domain": [0, 1.75], "nice": false, "zero": false}, "axis": null},
            "y": {"datum": 1.53, "type": "quantitative", "scale": {"type": "log", "domain": [1, 5.18e7], "nice": false}, "axis": null},
            "text": {"value": "R= 0.2 nm"}
          }
        },
        {
          "data": {"values": [{}]},
          "mark": {"type": "text", "fontSize": 36, "fontWeight": "bold", "align": "center", "baseline": "middle", "color": "black"},
          "encoding": {
            "x": {"datum": -0.12, "type": "quantitative", "scale": {"domain": [0, 1.75], "nice": false, "zero": false}, "axis": null},
            "y": {"datum": 1.68e7, "type": "quantitative", "scale": {"type": "log", "domain": [1, 5.18e7], "nice": false}, "axis": null},
            "text": {"value": "b)"}
          }
        }
      ]
    }
  ]
}
